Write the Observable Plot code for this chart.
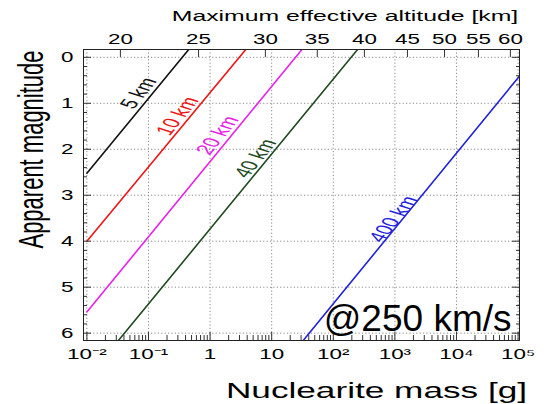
<!DOCTYPE html>
<html><head><meta charset="utf-8">
<script src="https://cdn.jsdelivr.net/npm/d3@7"></script>
<script src="https://cdn.jsdelivr.net/npm/@observablehq/plot@0.6"></script>
<style>html,body{margin:0;padding:0;background:#fff;} svg{display:block;}</style>
</head><body>
<div id="chart"></div>
<script>
// ---- data ----
const massDecades = [1e-2, 1e-1, 1, 10, 1e2, 1e3, 1e4, 1e5];
const massTickLabels = ["10⁻²", "10⁻¹", "1", "10", "10²", "10³", "10⁴", "10⁵"];
const magnitudeTicks = [0, 1, 2, 3, 4, 5, 6];
const altitudeTicks = [20, 25, 30, 35, 40, 45, 50, 55, 60];
const altitudeTickMass = [0.035, 0.65, 7.9, 55, 320, 1600, 6400, 22700, 75000];
const series = ["5 km", "10 km", "20 km", "40 km", "400 km"];
const seriesColors = ["#111111", "#ee1515", "#e822e8", "#1f4a1f", "#2222dd"];
const lineMass = [[0.01, 0.45], [0.01, 3.8], [0.01, 31], [0.0325, 248], [32.5, 1.05e5]];
const lineMagnitude = [[2.52, -0.17], [4.0, -0.17], [5.54, -0.17], [6.16, -0.17], [6.16, 0.41]];
const labelMass = [0.069, 0.296, 1.32, 5.46, 948];
const labelMagnitude = [0.78, 1.28, 1.70, 2.2, 3.52];

// ---- derived tables ----
const lineRows = series.flatMap((s, i) => lineMass[i].map((m, j) => ({series: s, mass: m, mag: lineMagnitude[i][j]})));
const labelRows = series.map((s, i) => ({series: s, mass: labelMass[i], mag: labelMagnitude[i]}));
const altRows = altitudeTicks.map((a, i) => ({mass: altitudeTickMass[i], label: String(a)}));
const massLabel = new Map(massDecades.map((d, i) => [d, massTickLabels[i]]));
const minorMass = d3.range(-2, 5).flatMap(k => d3.range(2, 10).map(f => f * 10 ** k));
const minorMag = d3.range(1, 30).filter(i => i % 5 !== 0).map(i => i / 5);

const W = 551, H = 404, MT = 49, MB = 64;
const tickColor = "#333";
const gridStyle = {stroke: "#8a8a8a", strokeOpacity: 1, strokeDasharray: "1.2,2.2"};

const chart = Plot.plot({
  width: W, height: H,
  marginLeft: 83, marginRight: 32, marginTop: MT, marginBottom: MB,
  style: {fontFamily: "'Liberation Sans', Arial, Helvetica, sans-serif", background: "#fff", color: "#000"},
  x: {type: "log", domain: [10 ** -2.055, 10 ** 5.023]},
  y: {domain: [-0.17, 6.16], reverse: true},
  color: {domain: series, range: seriesColors},
  marks: [
    Plot.gridX(massDecades, gridStyle),
    Plot.gridY(magnitudeTicks, gridStyle),
    Plot.line(lineRows, {x: "mass", y: "mag", z: "series", stroke: "series", strokeWidth: 1.6, clip: true}),
    Plot.text(labelRows, {x: "mass", y: "mag", text: "series", fill: "series", rotate: -62.8, fontSize: 15}),
    // bottom axis
    Plot.axisX(massDecades, {anchor: "bottom", tickSize: 0, tickPadding: 9, tickFormat: d => massLabel.get(d), fontSize: 14, label: null}),
    Plot.axisX(massDecades, {anchor: "bottom", tickSize: 8, dy: -8, fill: "none", stroke: tickColor, label: null}),
    Plot.axisX(minorMass, {anchor: "bottom", tickSize: 5, dy: -5, fill: "none", stroke: tickColor, label: null}),
    // top axis (maximum effective altitude), ticks pointing inward
    Plot.tickX(altRows, {x: "mass", insetBottom: H - MT - MB - 8, stroke: tickColor, strokeWidth: 1}),
    Plot.text(altRows, {x: "mass", text: "label", frameAnchor: "top", lineAnchor: "bottom", dy: -5.5, fontSize: 14}),
    // left axis
    Plot.axisY(magnitudeTicks, {anchor: "left", tickSize: 0, tickPadding: 10, fontSize: 14, label: null}),
    Plot.axisY(magnitudeTicks, {anchor: "left", tickSize: 8, dx: 8, fill: "none", stroke: tickColor, label: null}),
    Plot.axisY(minorMag, {anchor: "left", tickSize: 4, dx: 4, fill: "none", stroke: tickColor, label: null}),
    // right axis
    Plot.axisY(magnitudeTicks, {anchor: "right", tickSize: 8, dx: -8, fill: "none", stroke: tickColor, label: null}),
    Plot.axisY(minorMag, {anchor: "right", tickSize: 4, dx: -4, fill: "none", stroke: tickColor, label: null}),
    Plot.frame({stroke: "#222"}),
    // titles
    Plot.text(["Maximum effective altitude [km]"], {frameAnchor: "top", textAnchor: "middle", dx: 43.5, dy: -28.5, lineAnchor: "bottom", fontSize: 15.5}),
    Plot.text(["Nuclearite mass [g]"], {frameAnchor: "bottom", textAnchor: "middle", dx: 75, dy: 57, lineAnchor: "bottom", fontSize: 22}),
    Plot.text(["Apparent magnitude"], {frameAnchor: "left", textAnchor: "middle", rotate: -90, dx: -41, dy: -45.5, lineAnchor: "bottom", fontSize: 22}),
    Plot.text(["@250 km/s"], {frameAnchor: "bottom-right", textAnchor: "end", lineAnchor: "bottom", dx: -8, dy: -10, fontSize: 37})
  ]
});
document.getElementById("chart").append(chart);

// the reference chart is horizontally stretched; reproduce that on its texts
const STRETCH = 1.6;
chart.querySelectorAll("text").forEach(el => {
  if (el.textContent === "@250 km/s" || el.textContent === "") return;
  const t = el.getAttribute("transform") || "";
  const m = t.match(/translate\(\s*([-\d.e+]+)[,\s]+([-\d.e+]+)\s*\)/);
  if (!m) return;
  const rest = t.replace(m[0], "").trim();
  el.setAttribute("transform", `translate(${m[1]},${m[2]}) scale(${STRETCH},1)${rest ? " " + rest : ""}`);
});
</script>
</body></html>
